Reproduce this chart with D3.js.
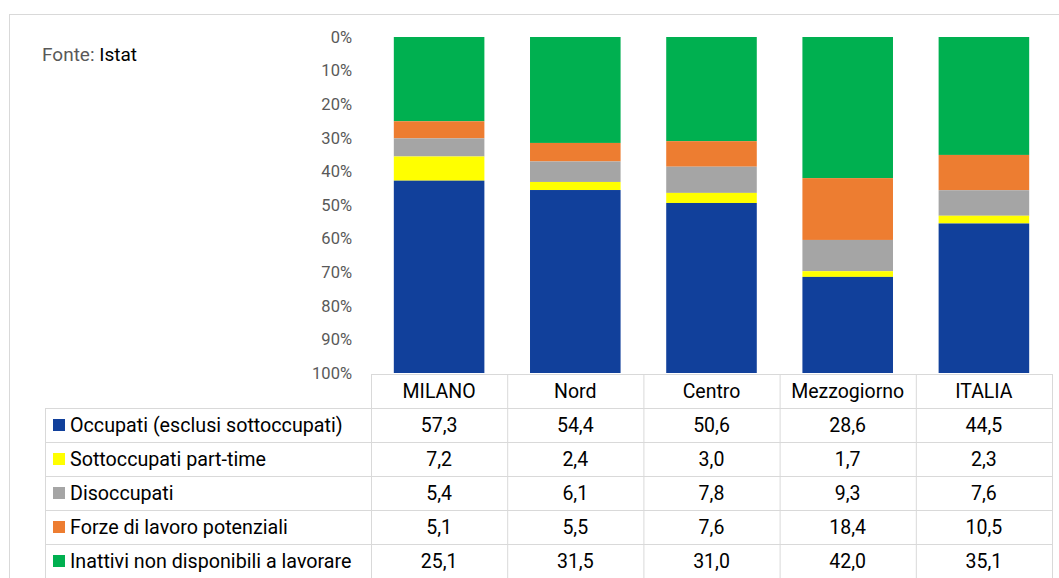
<!DOCTYPE html>
<html>
<head>
<meta charset="utf-8">
<script src="https://cdn.jsdelivr.net/npm/d3@7"></script>
<style>
  body { margin: 0; background: #fff; }
  svg { display: block; font-family: Roboto, "Noto Sans", sans-serif; }
</style>
</head>
<body>
<div id="canvas"></div>
<script>
const areas = ["MILANO", "Nord", "Centro", "Mezzogiorno", "ITALIA"];
const seriesNames = [
  "Occupati (esclusi sottoccupati)",
  "Sottoccupati part-time",
  "Disoccupati",
  "Forze di lavoro potenziali",
  "Inattivi non disponibili a lavorare"
];
const seriesColors = ["#11409b", "#ffff00", "#a5a5a5", "#ed7d31", "#00b050"];
const occupati    = [57.3, 54.4, 50.6, 28.6, 44.5];
const sottoccup   = [7.2, 2.4, 3.0, 1.7, 2.3];
const disoccupati = [5.4, 6.1, 7.8, 9.3, 7.6];
const forze       = [5.1, 5.5, 7.6, 18.4, 10.5];
const inattivi    = [25.1, 31.5, 31.0, 42.0, 35.1];
const seriesValues = [occupati, sottoccup, disoccupati, forze, inattivi];
const yTicks = [0, 0.1, 0.2, 0.3, 0.4, 0.5, 0.6, 0.7, 0.8, 0.9, 1];

const w = 1059, h = 578;
const svg = d3.select("#canvas").append("svg")
  .attr("width", w).attr("height", h)
  .attr("viewBox", [0, 0, w, h]);

// outer frame
svg.append("rect")
  .attr("x", 9.5).attr("y", 14.5)
  .attr("width", 1100).attr("height", 600)
  .attr("fill", "none").attr("stroke", "#d9d9d9");

svg.append("text")
  .attr("x", 42).attr("y", 61)
  .attr("font-size", 19)
  .attr("fill", "#595959")
  .text("Fonte: ")
  .append("tspan").attr("fill", "#000").text("Istat");

// rows of data, one per area
const rows = areas.map((a, i) => {
  const r = { area: a };
  seriesNames.forEach((s, j) => { r[s] = seriesValues[j][i]; });
  return r;
});

const x = d3.scaleBand()
  .domain(areas)
  .range([371, 1052])
  .paddingInner(0.335)
  .paddingOuter(0.1675);

const y = d3.scaleLinear().domain([0, 1]).range([37, 373]);

// stack from the top: last series first
const stack = d3.stack()
  .keys(seriesNames.slice().reverse())
  .offset(d3.stackOffsetExpand);
const layers = stack(rows);

svg.append("g")
  .selectAll("g")
  .data(layers)
  .join("g")
    .attr("fill", d => seriesColors[seriesNames.indexOf(d.key)])
  .selectAll("rect")
  .data(d => d)
  .join("rect")
    .attr("x", d => x(d.data.area))
    .attr("width", x.bandwidth())
    .attr("y", d => y(d[0]))
    .attr("height", d => y(d[1]) - y(d[0]));

const yAxis = d3.axisLeft(y)
  .tickValues(yTicks)
  .tickFormat(d3.format(".0%"))
  .tickSize(0)
  .tickPadding(0);

const gY = svg.append("g")
  .attr("transform", "translate(352,0)")
  .call(yAxis);
gY.select(".domain").remove();
gY.selectAll("text")
  .attr("font-family", "Roboto, 'Noto Sans', sans-serif")
  .attr("font-size", 16.5)
  .attr("fill", "#595959");

// data table
const rowH = 34;
const tableTop = 374;
const labelLeft = 45;
const colLeft = 371;
const colW = (1052 - colLeft) / areas.length;
const table = svg.append("g")
  .attr("stroke", "#d9d9d9")
  .attr("fill", "none");

// header row
table.append("rect")
  .attr("x", colLeft + 0.5).attr("y", tableTop + 0.5)
  .attr("width", 1052 - colLeft).attr("height", rowH);
// body
table.append("rect")
  .attr("x", labelLeft + 0.5).attr("y", tableTop + rowH + 0.5)
  .attr("width", 1052 - labelLeft).attr("height", rowH * seriesNames.length);
seriesNames.forEach((s, i) => {
  if (i > 0) {
    table.append("line")
      .attr("x1", labelLeft).attr("x2", 1052)
      .attr("y1", tableTop + rowH * (i + 1) + 0.5)
      .attr("y2", tableTop + rowH * (i + 1) + 0.5);
  }
});
areas.forEach((a, i) => {
  table.append("line")
    .attr("x1", colLeft + colW * i + 0.5).attr("x2", colLeft + colW * i + 0.5)
    .attr("y1", tableTop).attr("y2", tableTop + rowH * (seriesNames.length + 1));
});

const fmt = v => v.toFixed(1).replace(".", ",");

svg.append("g")
  .selectAll("text")
  .data(areas)
  .join("text")
    .attr("x", (d, i) => colLeft + colW * (i + 0.5))
    .attr("y", tableTop + rowH / 2 + 7)
    .attr("text-anchor", "middle")
    .attr("font-size", 19.5)
    .attr("fill", "#000")
    .text(d => d);

seriesNames.forEach((s, j) => {
  const cy = tableTop + rowH * (j + 1) + rowH / 2;
  svg.append("rect")
    .attr("x", 53).attr("y", cy - 6)
    .attr("width", 12).attr("height", 12)
    .attr("fill", seriesColors[j]);
  svg.append("text")
    .attr("x", 70).attr("y", cy + 7)
    .attr("font-size", 19.7)
    .attr("fill", "#000")
    .text(s);
  svg.append("g")
    .selectAll("text")
    .data(seriesValues[j])
    .join("text")
      .attr("x", (d, i) => colLeft + colW * (i + 0.5))
      .attr("y", cy + 7)
      .attr("text-anchor", "middle")
      .attr("font-size", 19.5)
      .attr("fill", "#000")
      .text(d => fmt(d));
});
</script>
</body>
</html>
